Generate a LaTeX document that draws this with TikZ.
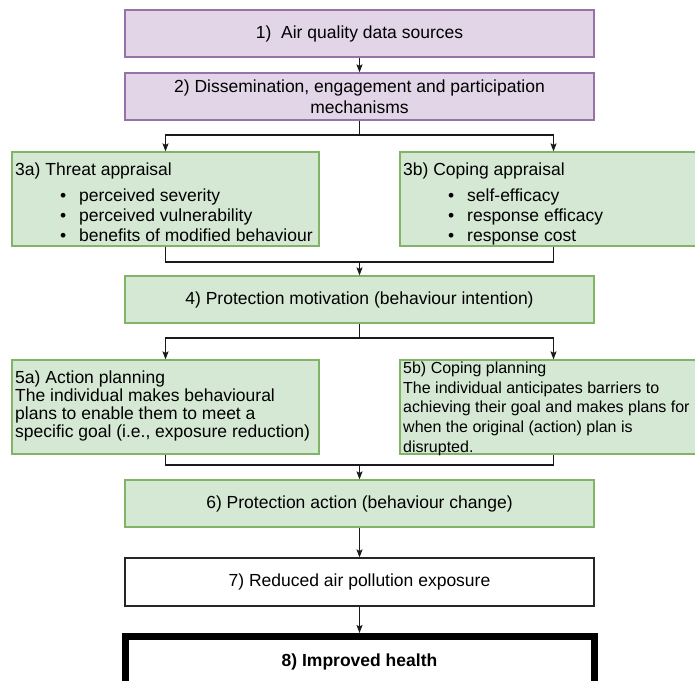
\documentclass[tikz,border=0pt]{standalone}
\usepackage{fontspec}
\setmainfont{Liberation Sans}
\usetikzlibrary{arrows.meta}
\definecolor{pfill}{HTML}{E1D5E7}
\definecolor{pline}{HTML}{9673A6}
\definecolor{gfill}{HTML}{D5E8D4}
\definecolor{gline}{HTML}{82B366}
\definecolor{conn}{HTML}{1A1A1A}
\begin{document}
\begin{tikzpicture}[x=1pt,y=-1pt,
  box/.style={draw, line width=1.2pt, inner sep=0pt, minimum width=469pt,
    minimum height=47pt, align=center, font=\fontsize{17.5}{20.5}\selectfont},
  purplebox/.style={box, draw=pline, fill=pfill},
  greenbox/.style={box, draw=gline, fill=gfill},
  sidebox/.style={greenbox, minimum width=307pt, minimum height=94pt},
  whitebox/.style={box, draw=black!85, fill=white},
  boldbox/.style={box, draw=black, line width=7pt, fill=white, font=\fontsize{17.5}{20.5}\selectfont\bfseries},
  boxtext/.style={anchor=north west, inner sep=0pt, align=left},
  conn/.style={draw=conn, line width=1.1pt},
  arr/.style={conn, -{Stealth[length=8pt,width=6pt,inset=1.5pt]}}
]
\useasboundingbox (0,0) rectangle (695,680);
\clip (0,0) rectangle (695,680);

\node[purplebox] (b1) at (359.5,33.5) {1)\ \ Air quality data sources};
\node[purplebox] (b2) at (359.5,96.5) {2) Dissemination, engagement and participation\\mechanisms};

\node[sidebox] (b3a) at (165.5,199) {};
\node[sidebox] (b3b) at (553.5,199) {};
\node[boxtext, font=\fontsize{17.5}{20}\selectfont] (t3a) at (15,163)
  {3a) Threat appraisal\\[6pt]
   \hspace*{45pt}\makebox[19pt][l]{\textbullet}perceived severity\\
   \hspace*{45pt}\makebox[19pt][l]{\textbullet}perceived vulnerability\\
   \hspace*{45pt}\makebox[19pt][l]{\textbullet}benefits of modified behaviour};
\node[boxtext, font=\fontsize{17.5}{20}\selectfont] (t3b) at (403,163)
  {3b) Coping appraisal\\[6pt]
   \hspace*{45pt}\makebox[19pt][l]{\textbullet}self-efficacy\\
   \hspace*{45pt}\makebox[19pt][l]{\textbullet}response efficacy\\
   \hspace*{45pt}\makebox[19pt][l]{\textbullet}response cost};

\node[greenbox] (b4) at (359.5,299.5) {4) Protection motivation (behaviour intention)};

\node[sidebox] (b5a) at (165.5,407) {};
\node[sidebox] (b5b) at (553.5,407) {};
\node[boxtext, font=\fontsize{17.5}{17.8}\selectfont] (t5a) at (15,371)
  {5a) Action planning\\
   The individual makes behavioural\\
   plans to enable them to meet a\\
   specific goal (i.e., exposure reduction)};
\node[boxtext, font=\fontsize{16}{19.7}\selectfont] (t5b) at (403,361.5)
  {5b) Coping planning\\
   The individual anticipates barriers to\\
   achieving their goal and makes plans for\\
   when the original (action) plan is\\
   disrupted.};

\node[greenbox] (b6) at (359.5,503.5) {6) Protection action (behaviour change)};
\node[whitebox, minimum height=48pt] (b7) at (359.5,582) {7) Reduced air pollution exposure};
\node[boldbox, minimum height=51pt] (b8) at (359.5,662) {8) Improved health};

\coordinate (s1) at (359.5,135);
\coordinate (j1) at (359.5,262);
\coordinate (s2) at (359.5,338);
\coordinate (j2) at (359.5,465);

\draw[arr] (b1) -- (b2);
\draw[conn] (b2.south) -- (s1);
\draw[arr] (s1) -- (s1 -| b3a.north) -- (b3a.north);
\draw[arr] (s1) -- (s1 -| b3b.north) -- (b3b.north);

\draw[conn] (b3a.south) -- (b3a.south |- j1) -- (b3b.south |- j1) -- (b3b.south);
\draw[arr] (j1) -- (b4.north);

\draw[conn] (b4.south) -- (s2);
\draw[arr] (s2) -- (s2 -| b5a.north) -- (b5a.north);
\draw[arr] (s2) -- (s2 -| b5b.north) -- (b5b.north);

\draw[conn] (b5a.south) -- (b5a.south |- j2) -- (b5b.south |- j2) -- (b5b.south);
\draw[arr] (j2) -- (b6.north);

\draw[arr] (b6) -- (b7);
\draw[arr] (b7) -- (b8);
\end{tikzpicture}
\end{document}
